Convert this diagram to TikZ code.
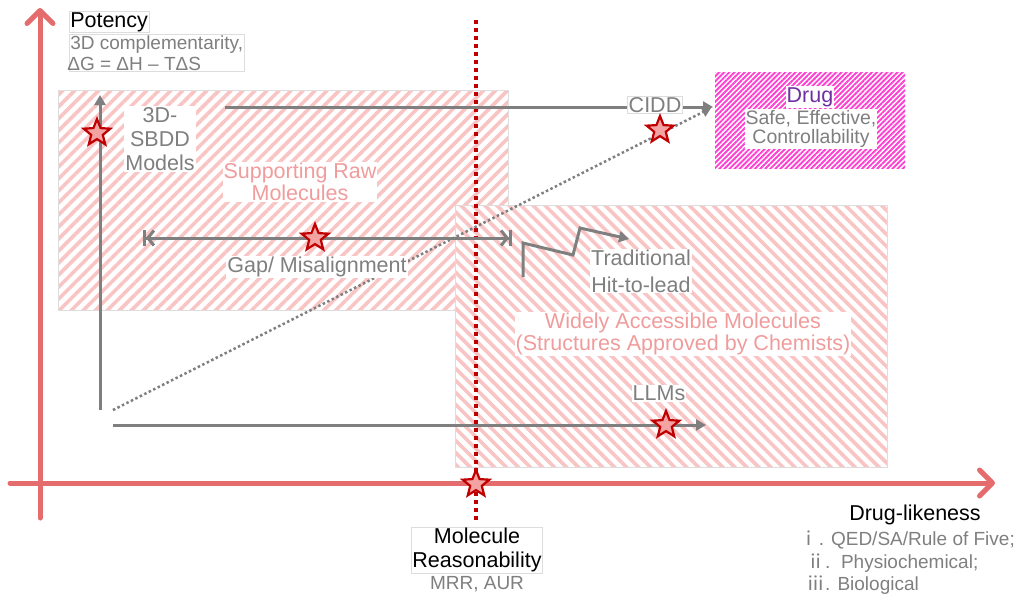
\documentclass[tikz,border=0pt]{standalone}
\usepackage{fontspec}
\setmainfont{Liberation Sans}
\newfontfamily\cjk{Noto Sans CJK SC}
\usetikzlibrary{arrows.meta,patterns.meta,shapes.geometric}
\definecolor{axisred}{HTML}{E46C6C}
\definecolor{darkred}{HTML}{C00000}
\definecolor{txtgray}{HTML}{7F7F7F}
\definecolor{linegray}{HTML}{7F7F7F}
\definecolor{pinktxt}{HTML}{F19C9C}
\definecolor{hatchpink}{HTML}{F8C4C4}
\definecolor{hatchmag}{HTML}{FF3FD2}
\definecolor{drugpurple}{HTML}{7030A0}
\definecolor{starfill}{HTML}{F4A3A3}
\definecolor{boxline}{HTML}{DDDDDD}
\begin{document}
\begin{tikzpicture}[x=1pt,y=-1pt,
  axisline/.style={draw=axisred, line width=5pt, line cap=round, -{Straight Barb[length=13pt,width=26pt,line cap=round,line join=round]}},
  garrow/.style={draw=linegray, line width=3pt, -{Triangle[length=10pt,width=11pt]}},
  gdot/.style={draw=linegray, line width=2.5pt, dash pattern=on 2.5pt off 2.5pt},
  rdot/.style={draw=darkred, line width=4pt, dash pattern=on 4pt off 4pt},
  starnode/.style={star, star points=5, star point ratio=2.3, minimum size=28pt, inner sep=0pt, fill=starfill, draw=darkred, line width=2.2pt},
  lbl/.style={font=\fontsize{21.5}{25}\selectfont, text=txtgray, fill=white, inner sep=1pt, align=center},
  plbl/.style={font=\fontsize{21.5}{22}\selectfont, text=pinktxt, fill=white, inner sep=1pt, align=center},
  sublbl/.style={font=\fontsize{19}{21}\selectfont, text=txtgray, inner sep=1pt},
  blk/.style={font=\fontsize{21.5}{25}\selectfont, text=black, inner sep=1pt},
  region/.style={draw=boxline, line width=0.8pt},
]
\useasboundingbox (0,0) rectangle (1020,598);

% hatched regions
\path[region, pattern={Lines[angle=45,distance=8.5pt,line width=3.6pt]}, pattern color=hatchpink]
  (58,90) -- (508,90) -- (508,205) -- (455,205) -- (455,310) -- (58,310) -- cycle;
\path[region, pattern={Lines[angle=-45,distance=8.5pt,line width=3.6pt]}, pattern color=hatchpink]
  (455,205) rectangle (887,467);
\node[draw=none, minimum width=190pt, minimum height=96pt, inner sep=0pt,
  pattern={Lines[angle=45,distance=3.6pt,line width=1.9pt]}, pattern color=hatchmag]
  (drugbox) at (810,120) {};

% axes
\coordinate (xs) at (10,483);
\coordinate (xe) at (995,483);
\coordinate (ys) at (40,518);
\coordinate (ye) at (40,8);
\draw[axisline] (xs) -- (xe);
\draw[axisline] (ys) -- (ye);

% red dotted line
\coordinate (rt) at (476,20);
\coordinate (rb) at (476,522);
\draw[rdot] (rt) -- (rb);

% gray connectors
\coordinate (va) at (100,410);
\coordinate (vb) at (100,95);
\draw[garrow] (va) -- (vb);

\coordinate (ca) at (225,107);
\coordinate (cb) at (713,107);
\draw[garrow] (ca) -- (cb);

\coordinate (da) at (113,410);
\coordinate (db) at (711,108);
\draw[gdot, -{Triangle[length=9pt,width=10pt]}] (da) -- (db);

\coordinate (ga) at (143,238);
\coordinate (gb) at (512,238);
\draw[draw=linegray, line width=3pt,
  {Bar[width=16pt,line width=3pt]Straight Barb[length=6pt,width=15pt,line width=3pt]}-{Straight Barb[length=6pt,width=15pt,line width=3pt]Bar[width=16pt,line width=3pt]}]
  (ga) -- (gb);

\coordinate (z0) at (523,277);
\coordinate (z1) at (523,243);
\coordinate (z2) at (573,255);
\coordinate (z3) at (580,228);
\coordinate (z4) at (629,239);
\draw[garrow, line join=miter] (z0) -- (z1) -- (z2) -- (z3) -- (z4);

\coordinate (la) at (113,425);
\coordinate (lb) at (706,425);
\draw[garrow] (la) -- (lb);

% labels
\node[blk, anchor=west, fill=white, draw=boxline, line width=0.5pt, font=\fontsize{21.5}{25}\selectfont] (potency) at (69,22) {Potency};
\node[sublbl, anchor=north west, fill=white, draw=boxline, line width=0.5pt, align=left] (potsub) at (69,34) {3D complementarity,\\$\!$ΔG = ΔH – TΔS};

\node[lbl, font=\fontsize{21.5}{24}\selectfont] (sbdd) at (160,139) {3D-\\SBDD\\Models};
\node[plbl] (raw) at (300,182) {Supporting Raw\\Molecules};
\node[lbl] (gap) at (317,267) {Gap/ Misalignment};
\node[lbl, draw=boxline, line width=0.6pt] (cidd) at (655,105) {CIDD};

\node[font=\fontsize{21.5}{25}\selectfont, text=drugpurple, fill=white, inner sep=1pt] (drugt) at (810,97) {Drug};
\node[sublbl, fill=white, align=center, font=\fontsize{19.5}{19.5}\selectfont] (drugsub) at (811,129) {Safe, Effective,\\Controllability};

\node[lbl, font=\fontsize{21.5}{27}\selectfont] (trad) at (641,271) {Traditional\\Hit-to-lead};
\node[plbl] (wide) at (683,334) {Widely Accessible Molecules\\(Structures Approved by Chemists)};
\node[lbl] (llm) at (659,393) {LLMs};

\node[blk, fill=white, draw=boxline, line width=0.5pt, align=center, font=\fontsize{21.5}{24}\selectfont] (mr) at (477,550) {Molecule\\Reasonability};
\node[sublbl, fill=white] (mrr) at (477,584) {MRR, AUR};

\node[blk] (dl) at (915,515) {Drug-likeness};
\node[sublbl, anchor=east] (l1) at (1016,540) {{\cjk ⅰ}. QED/SA/Rule of Five;};
\node[sublbl, anchor=west] (l2) at (805,563) {{\cjk ⅱ}.\ \ Physiochemical;};
\node[sublbl, anchor=west] (l3) at (805,585) {{\cjk ⅲ}. Biological};

% stars
\node[starnode] (s1) at (97,133) {};
\node[starnode] (s2) at (315,238) {};
\node[starnode] (s3) at (660,130) {};
\node[starnode] (s4) at (666,425) {};
\node[starnode] (s5) at (476,484) {};
\end{tikzpicture}
\end{document}
